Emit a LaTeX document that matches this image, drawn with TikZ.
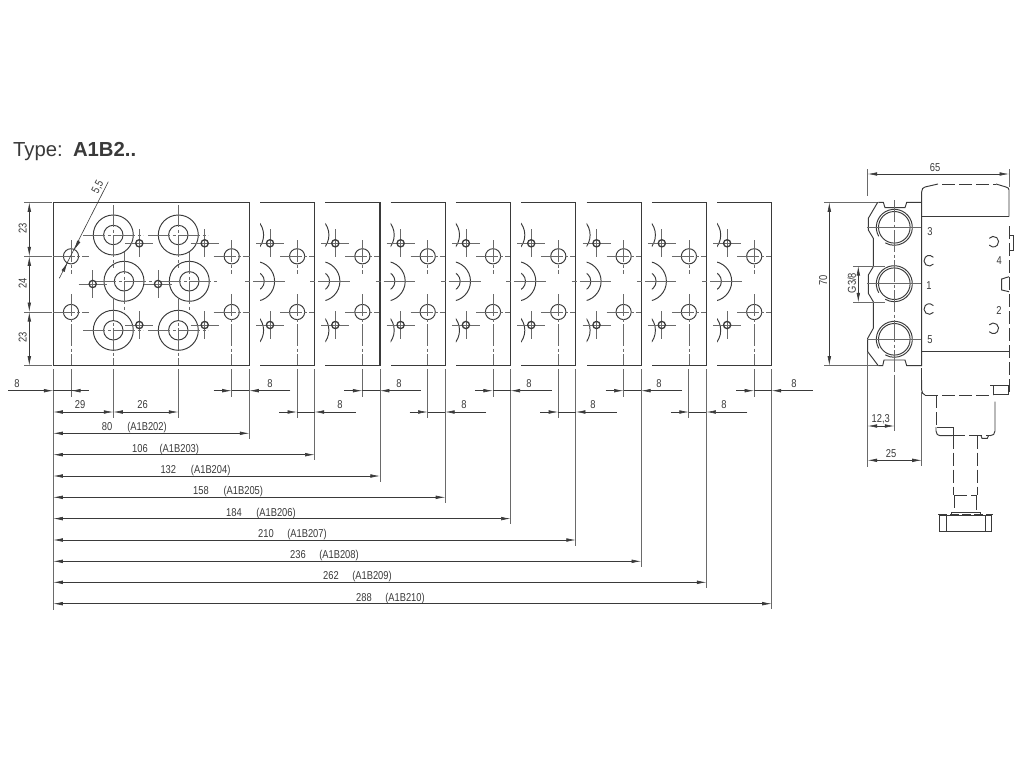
\documentclass[tikz,border=0pt]{standalone}
\usepackage{fontspec}
\setmainfont{Liberation Sans}
\newfontfamily\dimfont[FakeStretch=0.82]{Liberation Sans}
\usetikzlibrary{arrows.meta}
\definecolor{ink}{HTML}{3A3A3A}
\definecolor{thin}{HTML}{6A6A6A}
\tikzset{
  plate/.style={draw=ink,line width=1.15pt},
  hole/.style={draw=ink,line width=0.95pt},
  smallhole/.style={draw=ink,line width=1.3pt},
  cline/.style={draw=thin,line width=0.7pt,dash pattern=on 22pt off 2.5pt on 3pt off 2.5pt},
  cross/.style={draw=thin,line width=0.75pt},
  extl/.style={draw=thin,line width=0.8pt},
  dimm/.style={draw=ink,line width=0.6pt},
  both/.style={dimm,{Latex[length=9.5pt,width=3.6pt]}-{Latex[length=9.5pt,width=3.6pt]}},
  tipe/.style={dimm,-{Latex[length=9.5pt,width=3.6pt]}},
  lbl/.style={text=ink,font=\dimfont\fontsize{11.4}{12}\selectfont,inner sep=0pt},
  body/.style={draw=ink,line width=0.95pt},
  hidden/.style={draw=ink,line width=0.95pt,dash pattern=on 13pt off 4pt}
}
\begin{document}
\begin{tikzpicture}[x=1pt,y=-1pt]
\useasboundingbox (0,0) rectangle (1024,768);
\fill[white] (0,0) rectangle (1024,768);
% title
\node[anchor=west,inner sep=0pt,text=ink,font=\fontsize{20.3}{22}\selectfont] (title) at (13,152) {Type:\hspace{0.5em}\textbf{A1B2..}};
% main plate
\draw[plate] (53.3,202.3) rectangle (249.3,365.7);
% big ports main plate
\foreach \px/\py in {113.3/235,178.3/235,124/281.3,189.3/281.3,113.3/330.3,178.3/330.3}{
  \draw[hole] (\px,\py) circle[radius=20];
  \draw[hole] (\px,\py) circle[radius=9.7];
}
\foreach \px in {113.3,178.3}{
  \draw[cline] (\px-30,235) -- (\px+30,235);
  \draw[cline] (\px-30,330.3) -- (\px+30,330.3);
  \draw[cline] (\px,205) -- (\px,268);
  \draw[cline] (\px,298) -- (\px,365);
}
\foreach \px in {124,189.3}{
  \draw[cline] (\px-30,281.3) -- (\px+30,281.3);
  \draw[cline] (\px,252) -- (\px,312);
}
% small holes main plate
\foreach \px/\py in {139.3/243.3,204.7/243.3,92.7/284,158/284,139.3/325,204.7/325}{
  \draw[cross] (\px-14,\py) -- (\px+14,\py);
  \draw[cross] (\px,\py-14) -- (\px,\py+14);
  \draw[smallhole] (\px,\py) circle[radius=3.6];
}
% mounting holes
\foreach \px in {71,231.7}{
  \foreach \py in {256.3,312}{
    \draw[hole] (\px,\py) circle[radius=7.6];
    \draw[cline,dash pattern=on 22pt off 2pt on 3pt off 2pt] (\px-18,\py) -- (\px+18,\py);
  }
  \draw[cline] (\px,240) -- (\px,274);
  \draw[cline] (\px,294) -- (\px,365);
}
% repeated sections
\foreach \k in {0,...,7}{
  \pgfmathsetmacro{\st}{260+65.3*\k}
  \pgfmathsetmacro{\en}{314.7+65.3*\k}
  \pgfmathsetmacro{\bx}{243.6+65.3*\k}
  \pgfmathsetmacro{\mx}{254.6+65.3*\k}
  \pgfmathsetmacro{\sx}{270+65.3*\k}
  \pgfmathsetmacro{\hx}{297.1+65.3*\k}
  \draw[plate] (\st,202.3) -- (\en,202.3) -- (\en,365.7) -- (\st,365.7);
  \begin{scope}
    \clip (\st,190) rectangle (\en,380);
    \draw[hole] (\bx,235) circle[radius=20];
    \draw[hole] (\bx,330.3) circle[radius=20];
    \draw[hole] (\mx,281.3) circle[radius=20];
    \draw[hole] (\mx,281.3) circle[radius=9.7];
  \end{scope}
  \draw[cross] (\st-7,281.3) -- (\mx+30,281.3);
  \draw[cross] (\st-15,281.3) -- (\st-10,281.3);
  \foreach \py in {243.3,325}{
    \draw[cross] (\sx-14,\py) -- (\sx+14,\py);
    \draw[cross] (\sx,\py-14) -- (\sx,\py+14);
    \draw[smallhole] (\sx,\py) circle[radius=3.6];
  }
  \foreach \py in {256.3,312}{
    \draw[hole] (\hx,\py) circle[radius=7.6];
    \draw[cline,dash pattern=on 22pt off 2pt on 3pt off 2pt] (\hx-17,\py) -- (\hx+17,\py);
  }
  \draw[cline] (\hx,240) -- (\hx,274);
  \draw[cline] (\hx,294) -- (\hx,365);
}
% left vertical dimensions
\foreach \py in {202.3,256.3,312,365.7}{
  \draw[extl] (24,\py) -- (52,\py);
}
\draw[both] (29.3,202.3) -- (29.3,256.3);
\draw[both] (29.3,256.3) -- (29.3,312);
\draw[both] (29.3,312) -- (29.3,365.7);
\node[lbl,rotate=90] (d23a) at (22.7,228) {23};
\node[lbl,rotate=90] (d24) at (22.7,283) {24};
\node[lbl,rotate=90] (d23b) at (22.7,337.7) {23};
% diameter leader
\coordinate (lda) at (59.3,278.3);
\coordinate (ldb) at (108.3,181.7);
\draw[dimm] (lda) -- (ldb);
\draw[tipe] (79.2,240.6) -- (74.4,249.8);
\draw[tipe] (62.7,271.8) -- (67.5,262.6);
\node[lbl,rotate=63] (d55) at (98,187) {5,5};
% left edge extension
\draw[extl] (53.3,369) -- (53.3,609.5);
\draw[extl] (113.3,369) -- (113.3,418);
\draw[extl] (178.3,369) -- (178.3,418);
\draw[extl] (71,369) -- (71,396.7);
\draw[both] (53.3,412) -- (113.3,412);
\draw[both] (113.3,412) -- (178.3,412);
\node[lbl] (d29) at (80,405) {29};
\node[lbl] (d26) at (142.5,405) {26};
% left 8
\draw[dimm] (53.3,390.7) -- (88.6,390.7);
\draw[tipe] (8,390.7) -- (53.3,390.7);
\draw[tipe] (88.6,390.7) -- (71,390.7);
\node[lbl] (d8l) at (17,384) {8};
% edge-hole 8 dims and overall dims
\foreach \n/\yd/\lx/\ly/\ny/\nt/\mt/\nx/\mx in {%
 0/390.7/270/384/433.3/80/A1B202/107/147,%
 1/412/340/405/454.7/106/A1B203/140/179.3,%
 2/390.7/399/384/476/132/A1B204/168.3/210.7,%
 3/412/464/405/497.3/158/A1B205/201/243.3,%
 4/390.7/529/384/518.6/184/A1B206/234/276,%
 5/412/593/405/540/210/A1B207/266/307,%
 6/390.7/659/384/561.3/236/A1B208/298/339,%
 7/412/724/405/582.3/262/A1B209/331/372,%
 8/390.7/794/384/603.7/288/A1B210/364/405}{
  \pgfmathsetmacro{\ee}{249.3+65.3*\n}
  \pgfmathsetmacro{\hh}{\ee-17.6}
  \pgfmathsetmacro{\hs}{\hh-18}
  \pgfmathsetmacro{\er}{\ee+41}
  \draw[extl] (\ee,369) -- (\ee,\ny+5.7);
  \draw[extl] (\hh,369) -- (\hh,\yd+6);
  \draw[dimm] (\hh,\yd) -- (\ee,\yd);
  \draw[tipe] (\hs,\yd) -- (\hh,\yd);
  \draw[tipe] (\er,\yd) -- (\ee,\yd);
  \node[lbl] (e\n) at (\lx,\ly) {8};
  \draw[both] (53.3,\ny) -- (\ee,\ny);
  \node[lbl,anchor=base] (v\n) at (\nx,\ny-2.6) {\nt};
  \node[lbl,anchor=base] (m\n) at (\mx,\ny-2.6) {(\mt)};
}
% ---- side view
\draw[extl] (867.7,169) -- (867.7,196);
\draw[extl] (1009,169) -- (1009,187);
\draw[both] (867.7,174) -- (1009,174);
\node[lbl] (d65) at (935,167.5) {65};
\draw[extl] (824,202.3) -- (878,202.3);
\draw[extl] (824,365.7) -- (878,365.7);
\draw[both] (829.3,202.3) -- (829.3,365.7);
\node[lbl,rotate=90] (d70) at (823.3,280) {70};
% block outline
\draw[body] (877.7,202.3) -- (868.3,218.3) -- (868.3,230) -- (873.3,238.3) -- (873.3,266.7) -- (868.3,275) -- (868.3,293.3) -- (873.3,301.7) -- (873.3,328.3) -- (867.7,338.3) -- (867.7,351.7) -- (878.3,365.7);
\draw[body] (878.3,202.3) -- (883.3,202.3) -- (885,207.7) -- (905,207.7) -- (906.7,202.3) -- (921.7,202.3);
\draw[body] (878.3,365.7) -- (882.7,365.7) -- (884,360) -- (905,360) -- (906.7,365.7) -- (921.7,365.7);
\foreach \py in {227.3,283.7,339.3}{
  \draw[hole] (894.3,\py) circle[radius=15.8];
  \draw[hole] (894.3,\py) ++(150:18) arc[start angle=150,end angle=480,radius=18];
  \draw[cross] (867,\py) -- (921,\py);
}
\draw[cline] (894.3,200) -- (894.3,378);
\draw[cross] (853.3,266) -- (885,266);
\draw[cross] (853.3,302.3) -- (885,302.3);
\draw[both] (858.3,266) -- (858.3,302.3);
\node[lbl,rotate=90] (g38) at (851.7,283) {G3/8};
\node[lbl] (p3) at (930,231.7) {3};
\node[lbl] (p1) at (929,286) {1};
\node[lbl] (p5) at (930,339.3) {5};
\node[lbl] (p4) at (999.3,260.3) {4};
\node[lbl] (p2) at (999,311) {2};
% valve body
\draw[body] (921.7,366) -- (921.7,191.7) .. controls (921.7,189) and (923,187.5) .. (925,187) -- (938,184);
\draw[hidden] (942,184) -- (996,184);
\draw[body] (996,184) -- (1006,187) .. controls (1008,187.5) and (1009,188.5) .. (1009,190) -- (1009,216.7);
\draw[body] (921.7,216.7) -- (1009,216.7);
\draw[body] (921.7,351.7) -- (1009,351.7);
\draw[hidden] (1009,226) -- (1009,393);
\draw[hidden] (921.7,368) -- (921.7,380);
\draw[body] (921.7,380) -- (921.7,390) .. controls (921.7,393) and (923,394) .. (925,395);
\draw[hidden] (925,395) -- (993,395);
\draw[body] (929.3,260.7) ++(40:5.3) arc[start angle=40,end angle=320,radius=5.3];
\draw[body] (929.3,309) ++(40:5.3) arc[start angle=40,end angle=320,radius=5.3];
\draw[body] (993.3,241.7) ++(220:5.3) arc[start angle=220,end angle=500,radius=5.3];
\draw[body] (993.3,328.3) ++(220:5.3) arc[start angle=220,end angle=500,radius=5.3];
\draw[body] (1009,235) -- (1013.3,235) -- (1013.3,250) -- (1009,250);
\draw[body] (1009,276.7) -- (1001.7,279) -- (1001.7,290) -- (1009,291.7);
\draw[body] (990,385) -- (1008,385) -- (1008,394) -- (993,394) -- (993,385);
% solenoid
\draw[hidden] (936,395) -- (936,427);
\draw[body] (936,427) -- (936,431) .. controls (936,434) and (938,435.7) .. (940,435.7) -- (952,435.7);
\draw[hidden] (952,435.7) -- (990,435.7);
\draw[body] (990,435.7) .. controls (993,435.7) and (995,434) .. (995,431) -- (995,401.7);
\draw[body] (937,427.3) -- (953,427.3) -- (953,435.7);
\draw[body] (981,435.7) -- (982,438.3) -- (987.3,438.3) -- (988.5,435.7);
\draw[hidden] (953.3,435.7) -- (953.3,495);
\draw[hidden] (977.3,435.7) -- (977.3,495);
\draw[hidden] (954,495) -- (977,495);
\draw[body] (954.3,495) -- (954.3,508);
\draw[body] (976,495) -- (976,510);
\draw[body] (951,512) -- (980,512);
\draw[body] (951,512) -- (951,514);
\draw[body] (980,512) -- (980,514);
\draw[hidden,dash pattern=on 9pt off 3pt] (938.3,514.3) -- (992.5,514.3);
\draw[body] (939.3,515.5) rectangle (991.7,531.3);
\draw[body] (946,516) -- (946,531.3);
\draw[body] (985,516) -- (985,531.3);
% lower dims of side view
\draw[extl] (867.7,352) -- (867.7,466.7);
\draw[extl] (894.3,378) -- (894.3,431);
\draw[extl] (921.7,392) -- (921.7,466);
\draw[both] (867.7,426) -- (894.3,426);
\draw[both] (867.7,460.3) -- (921.7,460.3);
\node[lbl] (d123) at (880.7,419.3) {12,3};
\node[lbl] (d25) at (891,454) {25};
\end{tikzpicture}
\end{document}
